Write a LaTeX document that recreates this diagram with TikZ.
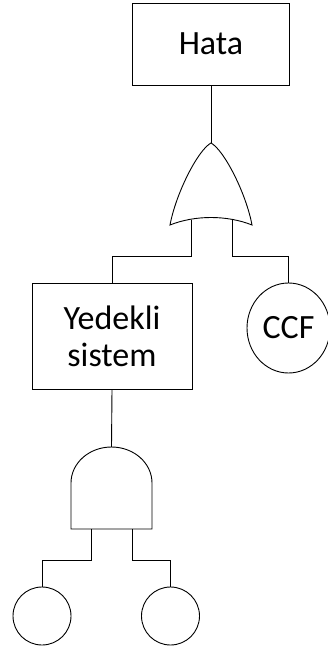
\documentclass[tikz,border=0pt]{standalone}
\usepackage{fontspec}
\setmainfont{Carlito}
\usetikzlibrary{shapes.geometric}
\begin{document}
\begin{tikzpicture}[x=1pt, y=-1pt,
  every node/.style={font=\fontsize{34}{37}\selectfont, inner sep=0pt},
  eventbox/.style={draw, line width=1pt, rectangle, align=center},
  basic/.style={draw, line width=0.9pt, circle, minimum size=58pt},
  wire/.style={line width=0.9pt},
  gate/.style={line width=0.9pt}]
\useasboundingbox (0,0) rectangle (327,653);

% events
\node[eventbox, minimum width=157pt, minimum height=82pt] (hata) at (211,44) {Hata};
\node[eventbox, minimum width=160pt, minimum height=106pt] (yed) at (112,336) {Yedekli\\sistem};
\node[draw, line width=0.9pt, ellipse, minimum width=83pt, minimum height=90pt] (ccf) at (288.5,328) {CCF};
\node[basic] (e1) at (42,616) {};
\node[basic] (e2) at (170.5,616) {};

% OR gate
\coordinate (orout) at (211,143);
\coordinate (orin1) at (191,220);
\coordinate (orin2) at (232,220);
\draw[gate] (170,225) .. controls (176,193) and (198,150) .. (orout)
  .. controls (224,150) and (246,193) .. (252,225)
  .. controls (227,215) and (195,215) .. cycle;

% AND gate
\coordinate (andout) at (111.5,447);
\coordinate (andin1) at (91,529);
\coordinate (andin2) at (132,529);
\draw[gate] (71,529) -- (71,483)
  .. controls (71,463.1) and (89.1,447) .. (andout)
  .. controls (133.9,447) and (152,463.1) .. (152,483)
  -- (152,529) -- cycle;

% connectors
\draw[wire] (hata.south) -- (orout);
\draw[wire] (orin1) -- ++(0,36) -| (yed.north);
\draw[wire] (orin2) -- ++(0,36) -| (ccf.north);
\draw[wire] (yed.south) -- (andout);
\draw[wire] (andin1) -- ++(0,31) -| (e1.north);
\draw[wire] (andin2) -- ++(0,31) -| (e2.north);
\end{tikzpicture}
\end{document}
